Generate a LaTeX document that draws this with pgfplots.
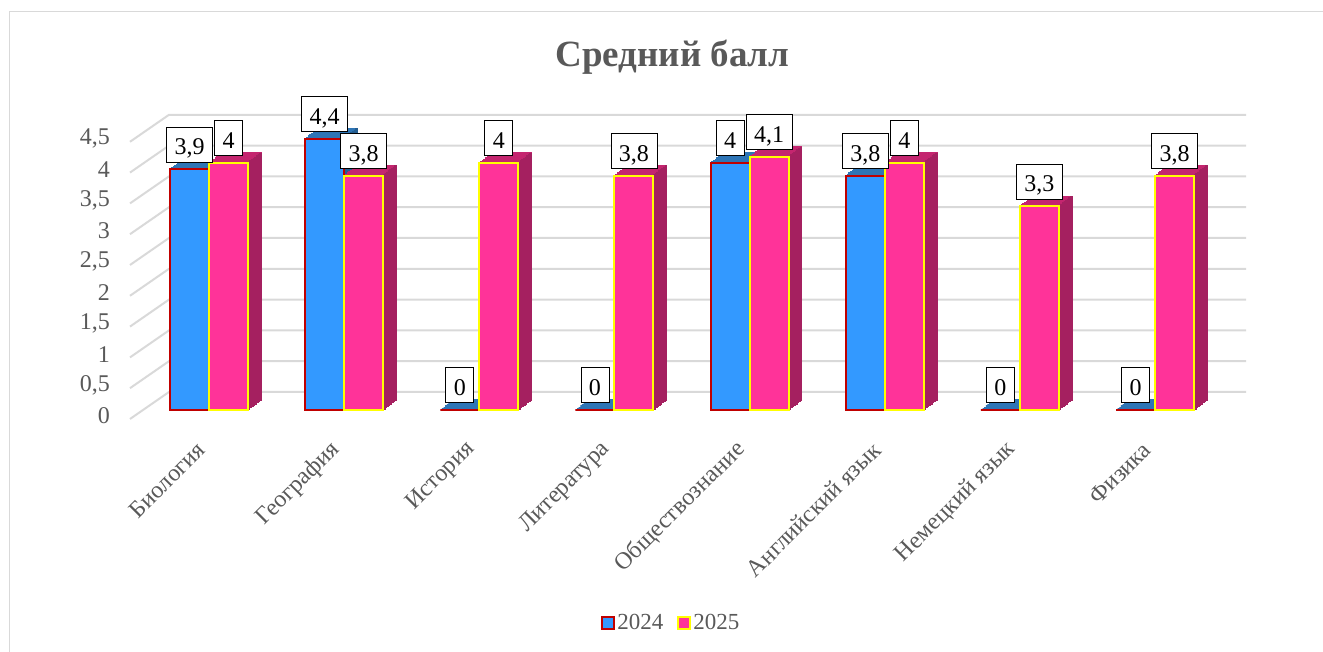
\documentclass[border=0pt]{standalone}
\usepackage{pgfplots}
\pgfplotsset{compat=1.18}
\usepackage{pgfplotstable}
\usepackage{fontspec}
\setmainfont{Liberation Serif}
\definecolor{txt}{HTML}{595959}
\definecolor{gridc}{HTML}{D9D9D9}
\definecolor{bfront}{HTML}{3399FF}
\definecolor{btop}{HTML}{2E75B6}
\definecolor{bside}{HTML}{255E91}
\definecolor{bedge}{HTML}{C00000}
\definecolor{pfront}{HTML}{FF3399}
\definecolor{ptop}{HTML}{C4256F}
\definecolor{pside}{HTML}{A52060}
\definecolor{pedge}{HTML}{FFFF00}
\pgfplotsset{sqlegend/.style={legend image code/.code={\draw[##1, line width=2pt] (0pt,-6pt) rectangle (12pt,6pt);}}}

\pgfplotstableread{
x a b
0 3.9 4
1 4.4 3.8
2 0 4
3 0 3.8
4 4 4.1
5 3.8 4
6 0 3.3
7 0 3.8
}\data

\begin{document}
\begin{tikzpicture}[x=1pt,y=1pt]
\useasboundingbox (0,0) rectangle (1323,652);
\draw[gridc, line width=1.5pt] (9.5,-20) -- (9.5,640.5) -- (1400,640.5);
\foreach \v in {0,0.5,1,1.5,2,2.5,3,3.5,4,4.5}{
  \pgfmathsetmacro\yb{652-(392-61.6*\v)}
  \draw[gridc, line width=2pt] (130,\yb-27) -- (169,\yb) -- (1246,\yb);
}
\node[txt, font=\fontsize{37}{40}\selectfont\bfseries, anchor=base] at (672.5,585) {Средний балл};
\begin{axis}[
  at={(130pt,242pt)}, anchor=south west, scale only axis,
  width=1116pt, height=277.65pt,
  xmin=-0.5846, xmax=7.6735, ymin=0, ymax=4.5,
  clip=false,
  axis line style={draw=none}, tick style={draw=none},
  ytick={0,0.5,...,4.5},
  xtick={0,...,7},
  xticklabels={Биология, География, История, Литература, Обществознание, Английский язык, Немецкий язык, Физика},
  /pgf/number format/use comma,
  /pgf/number format/assume math mode=true,
  tick label style={text=txt, font=\fontsize{24}{26}\selectfont},
  yticklabel style={anchor=east, inner sep=0pt, xshift=-20pt, yshift=-6pt},
  xticklabel style={xshift=-8pt, yshift=-36pt, rotate=45, anchor=east, inner sep=0pt},
  legend style={at={(0.4851,-0.7654)}, anchor=center, draw=none, fill=none,
    legend columns=2, font=\fontsize{23}{23}\selectfont, text=txt,
    /tikz/every even column/.append style={column sep=12pt}},
  every node near coord/.append style={fill=white, draw=black, line width=0.8pt, text=black,
    font=\fontsize{24}{24}\selectfont, inner xsep=8pt, inner ysep=3pt,
    text height=25pt, text depth=4pt, anchor=south, yshift=7pt},
]
% blue: top face
\pgfplotsinvokeforeach{1,...,8}{
  \addplot[ybar, bar width=39pt, bar shift=-19.5pt, fill=btop, draw=btop, line width=1.5pt,
    forget plot, xshift={#1*1.625pt}, yshift={#1*1.25pt}] table[x=x,y=a]{\data};
}
% blue: side face
\pgfplotsinvokeforeach{1,...,8}{
  \addplot[ybar, bar width=1.7pt, bar shift={-0.8125pt+#1*1.625pt}, fill=bside, draw=bside, line width=0.4pt,
    forget plot, yshift={#1*1.25pt}] table[x=x,y=a]{\data};
}
\addplot[ybar, bar width=39pt, bar shift=-19.5pt, fill=bfront, draw=bedge, line width=2pt,
  sqlegend] table[x=x,y=a]{\data};
% pink: top face
\pgfplotsinvokeforeach{1,...,8}{
  \addplot[ybar, bar width=39pt, bar shift=19.5pt, fill=ptop, draw=ptop, line width=1.5pt,
    forget plot, xshift={#1*1.625pt}, yshift={#1*1.25pt}] table[x=x,y=b]{\data};
}
% pink: side face
\pgfplotsinvokeforeach{1,...,8}{
  \addplot[ybar, bar width=1.7pt, bar shift={38.1875pt+#1*1.625pt}, fill=pside, draw=pside, line width=0.4pt,
    forget plot, yshift={#1*1.25pt}] table[x=x,y=b]{\data};
}
\addplot[ybar, bar width=39pt, bar shift=19.5pt, fill=pfront, draw=pedge, line width=2pt,
  sqlegend] table[x=x,y=b]{\data};
% labels
\addplot[ybar, bar width=39pt, bar shift=-19.5pt, draw=none, fill=none, forget plot,
  nodes near coords, every node near coord/.append style={xshift=-19.5pt}] table[x=x,y=a]{\data};
\addplot[ybar, bar width=39pt, bar shift=19.5pt, draw=none, fill=none, forget plot,
  nodes near coords, every node near coord/.append style={xshift=19.5pt}] table[x=x,y=b]{\data};
\legend{2024, 2025}
\end{axis}
\end{tikzpicture}
\end{document}
